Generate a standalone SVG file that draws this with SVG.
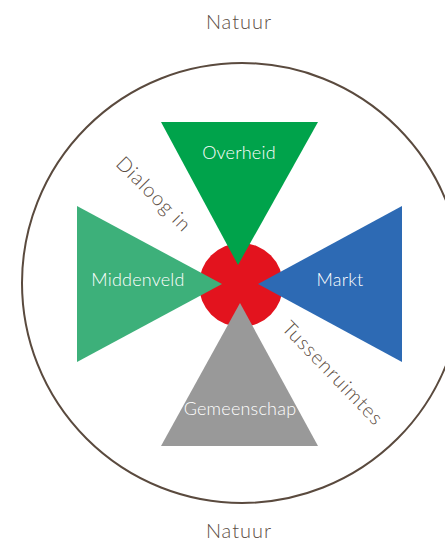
<svg xmlns="http://www.w3.org/2000/svg" width="445" height="544" viewBox="0 0 445 544">
<style>
.lbl{font-family:Lato,"Open Sans",sans-serif;font-weight:300;font-size:18px;fill:#ffffff;text-anchor:middle;letter-spacing:0.2px;}
.brown{font-family:Lato,"Open Sans",sans-serif;font-weight:300;font-size:20px;fill:#5c4d43;text-anchor:middle;letter-spacing:1px;}
</style>
<rect width="445" height="544" fill="#ffffff"/>
<g id="natuur-ring">
<circle cx="242" cy="283" r="220" fill="none" stroke="#5a4a3e" stroke-width="2"/>
</g>
<g id="center">
<circle cx="241" cy="285" r="42" fill="#e3131e"/>
</g>
<g id="overheid">
<polygon points="161,122 318,122 238,265" fill="#00a34b"/>
<text class="lbl" x="239" y="159">Overheid</text>
</g>
<g id="middenveld">
<polygon points="77,206 77,362 222,284" fill="#3db07a"/>
<text class="lbl" x="138" y="286">Middenveld</text>
</g>
<g id="markt">
<polygon points="402,206 402,362 258,284" fill="#2d6ab4"/>
<text class="lbl" x="340" y="286">Markt</text>
</g>
<g id="gemeenschap">
<polygon points="161,446 318,446 240,303" fill="#999999"/>
<text class="lbl" x="240" y="415">Gemeenschap</text>
</g>
<g id="labels">
<text class="brown" x="239" y="29">Natuur</text>
<text class="brown" x="239" y="538">Natuur</text>
<text class="brown" transform="translate(154,194) rotate(45)" y="7">Dialoog in</text>
<text class="brown" transform="translate(333,373) rotate(46)" y="7">Tussenruimtes</text>
</g>
<g id="connectors"></g>
</svg>
